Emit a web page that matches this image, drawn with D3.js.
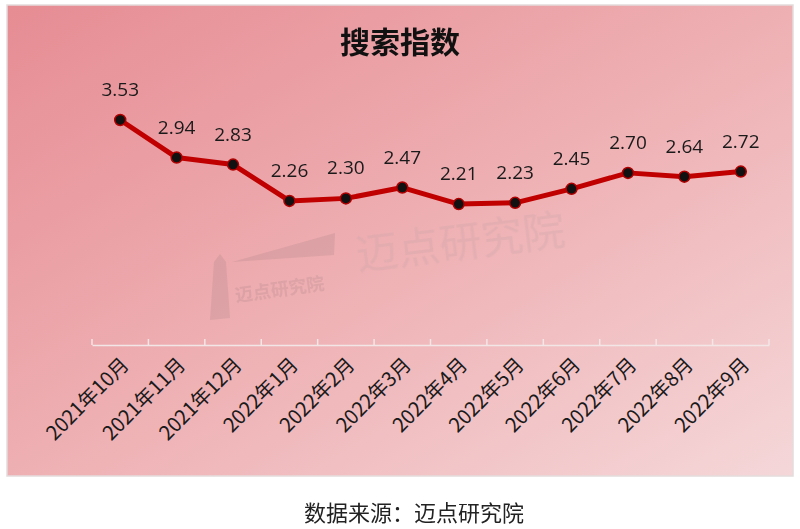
<!DOCTYPE html>
<html><head><meta charset="utf-8">
<script src="https://cdn.jsdelivr.net/npm/d3@7"></script>
<style>body{margin:0;background:#fff;}svg{display:block;}</style>
</head><body>
<svg id="c" width="800" height="529"></svg>
<script>
const categories = ["2021年10月","2021年11月","2021年12月","2022年1月","2022年2月","2022年3月","2022年4月","2022年5月","2022年6月","2022年7月","2022年8月","2022年9月"];
const values = [3.53,2.94,2.83,2.26,2.30,2.47,2.21,2.23,2.45,2.70,2.64,2.72];
const title = "搜索指数";
const source = "数据来源：迈点研究院";
const watermark = "迈点研究院";

const svg = d3.select("#c");
const defs = svg.append("defs");
const g = defs.append("linearGradient").attr("id","bg").attr("x1","0").attr("y1","0").attr("x2","1").attr("y2","1");
g.append("stop").attr("offset","0%").attr("stop-color","#e68c93");
g.append("stop").attr("offset","55%").attr("stop-color","#efb3b6");
g.append("stop").attr("offset","100%").attr("stop-color","#f5d7d9");

svg.append("rect").attr("x",7).attr("y",5).attr("width",786).attr("height",471)
  .attr("fill","url(#bg)").attr("stroke","#e4dcdc").attr("stroke-width",1.5);

// watermark
const wm = svg.append("g").attr("opacity",0.3);
wm.append("text").attr("transform","translate(358,270) rotate(-7)")
  .attr("font-family","Noto Sans CJK SC").attr("font-size",42).attr("fill","#c9a6a8").text(watermark);
wm.append("path").attr("d","M232,262 L335,233 L334,255 L232,262 Z").attr("fill","#b48a8c");
wm.append("path").attr("d","M210,320 L214,262 L220,254 L226,262 L230,318 Z").attr("fill","#b48a8c");
wm.append("text").attr("transform","translate(236,302) rotate(-8)")
  .attr("font-family","Noto Sans CJK SC").attr("font-weight","bold").attr("font-size",18).attr("fill","#b48a8c").text(watermark);

const x = d3.scaleBand().domain(categories).range([92,769]);
const y = d3.scaleLinear().domain([0,4]).range([345,90]);

const xAxis = svg.append("g").attr("transform","translate(0,345)")
  .call(d3.axisBottom(x).tickSize(0).tickFormat(""));
xAxis.select(".domain").attr("stroke","#f3e6e6").attr("stroke-width",1.5);
const bounds = categories.map(c=>x(c)).concat([x.range()[1]]);
svg.append("g").selectAll("line").data(bounds).join("line")
  .attr("x1",d=>d).attr("x2",d=>d).attr("y1",339).attr("y2",345)
  .attr("stroke","#f3e6e6").attr("stroke-width",1.5);

svg.append("g").selectAll("text").data(categories).join("text")
  .attr("transform",d=>`translate(${x(d)+x.bandwidth()/2+10},366) rotate(-45)`)
  .attr("text-anchor","end").attr("font-family","Noto Sans CJK SC").attr("font-size",20)
  .attr("fill","#1a1a1a").text(d=>d);

const line = d3.line().x((d,i)=>x(categories[i])+x.bandwidth()/2).y(d=>y(d));
svg.append("path").datum(values).attr("d",line).attr("fill","none")
  .attr("stroke","#c00000").attr("stroke-width",5).attr("stroke-linejoin","round");

svg.append("g").selectAll("circle").data(values).join("circle")
  .attr("cx",(d,i)=>x(categories[i])+x.bandwidth()/2).attr("cy",d=>y(d)).attr("r",5.5)
  .attr("fill","#111").attr("stroke","#b00000").attr("stroke-width",1.5);

svg.append("g").selectAll("text").data(values).join("text")
  .attr("x",(d,i)=>x(categories[i])+x.bandwidth()/2).attr("y",d=>y(d)-24)
  .attr("text-anchor","middle").attr("font-family","Open Sans").attr("font-size",19)
  .attr("fill","#1a1a1a").text(d=>d.toFixed(2));

svg.append("text").attr("x",400).attr("y",53).attr("text-anchor","middle")
  .attr("font-family","Noto Sans CJK SC").attr("font-weight","bold").attr("font-size",30)
  .attr("fill","#111").text(title);

svg.append("text").attr("x",414).attr("y",521).attr("text-anchor","middle")
  .attr("font-family","Noto Sans CJK SC").attr("font-size",22)
  .attr("fill","#222").text(source);
</script>
</body></html>
